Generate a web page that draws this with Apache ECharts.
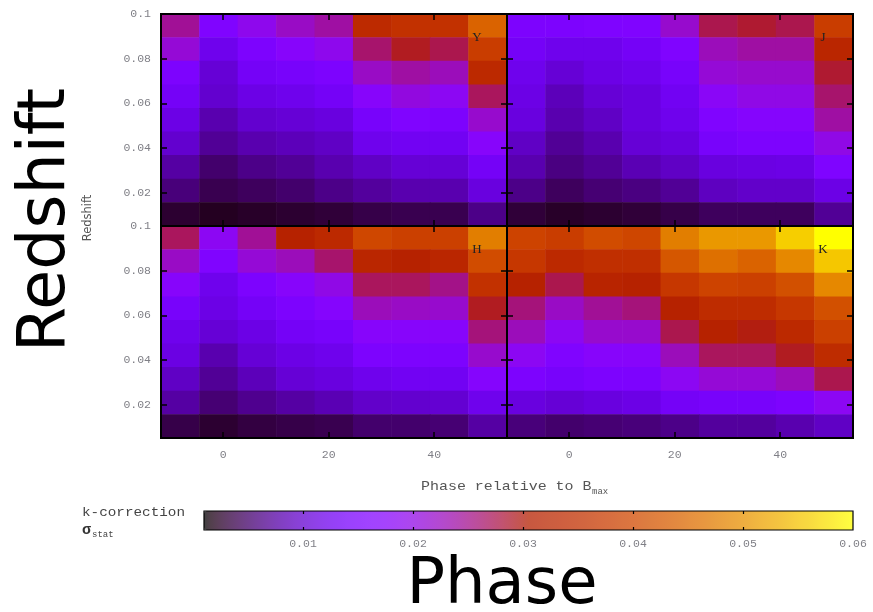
<!DOCTYPE html>
<html>
<head>
<meta charset="utf-8">
<script src="https://cdn.jsdelivr.net/npm/echarts@6/dist/echarts.min.js"></script>
<style>
  html, body { margin: 0; padding: 0; background: #fff; }
  #chart { width: 873px; height: 612px; }
</style>
</head>
<body>
<div id="chart"></div>
<script>
// Bin centres: phase (days relative to B maximum) and redshift
const phaseBins = ['-8.2', '-0.9', '6.4', '13.7', '21.0', '28.2', '35.5', '42.8', '50.1'];
const redshiftBins = ['0.010', '0.021', '0.031', '0.042', '0.052', '0.063', '0.073', '0.084', '0.094'];
const phaseRange = [-11.8, 53.8];
const redshiftRange = [0.005, 0.1];
const sigmaRange = [0.001, 0.06];
const phaseTicks = [0, 20, 40];
const redshiftTicks = [0.02, 0.04, 0.06, 0.08, 0.1];
const sigmaTicks = [0.01, 0.02, 0.03, 0.04, 0.05, 0.06];
const bands = ['Y', 'J', 'H', 'K'];

// Statistical k-correction error per cell; each row is one redshift bin,
// listed from the highest redshift bin down to the lowest.
const sigmaY = [
  [0.0246, 0.0158, 0.0193, 0.0222, 0.0240, 0.0335, 0.0352, 0.0352, 0.0441],
  [0.0211, 0.0122, 0.0152, 0.0175, 0.0193, 0.0264, 0.0293, 0.0276, 0.0376],
  [0.0152, 0.0104, 0.0134, 0.0140, 0.0152, 0.0222, 0.0240, 0.0228, 0.0329],
  [0.0134, 0.0099, 0.0116, 0.0122, 0.0134, 0.0175, 0.0205, 0.0187, 0.0270],
  [0.0116, 0.0081, 0.0099, 0.0104, 0.0110, 0.0140, 0.0158, 0.0152, 0.0217],
  [0.0099, 0.0069, 0.0081, 0.0087, 0.0093, 0.0122, 0.0128, 0.0128, 0.0175],
  [0.0075, 0.0051, 0.0063, 0.0069, 0.0081, 0.0093, 0.0104, 0.0104, 0.0134],
  [0.0057, 0.0040, 0.0045, 0.0051, 0.0063, 0.0072, 0.0081, 0.0081, 0.0110],
  [0.0028, 0.0022, 0.0025, 0.0028, 0.0031, 0.0037, 0.0040, 0.0040, 0.0063]
];
const sigmaJ = [
  [0.0152, 0.0152, 0.0155, 0.0158, 0.0217, 0.0276, 0.0287, 0.0276, 0.0376],
  [0.0134, 0.0122, 0.0122, 0.0134, 0.0158, 0.0228, 0.0240, 0.0240, 0.0323],
  [0.0122, 0.0104, 0.0116, 0.0122, 0.0140, 0.0211, 0.0217, 0.0217, 0.0287],
  [0.0116, 0.0087, 0.0104, 0.0110, 0.0128, 0.0181, 0.0199, 0.0199, 0.0264],
  [0.0110, 0.0081, 0.0093, 0.0110, 0.0122, 0.0158, 0.0169, 0.0169, 0.0240],
  [0.0093, 0.0069, 0.0081, 0.0104, 0.0110, 0.0140, 0.0152, 0.0152, 0.0199],
  [0.0081, 0.0060, 0.0069, 0.0084, 0.0093, 0.0110, 0.0113, 0.0116, 0.0155],
  [0.0063, 0.0045, 0.0054, 0.0060, 0.0069, 0.0090, 0.0096, 0.0096, 0.0116],
  [0.0031, 0.0025, 0.0028, 0.0031, 0.0037, 0.0045, 0.0045, 0.0045, 0.0069]
];
const sigmaH = [
  [0.0270, 0.0187, 0.0246, 0.0311, 0.0329, 0.0396, 0.0382, 0.0382, 0.0476],
  [0.0222, 0.0158, 0.0211, 0.0228, 0.0264, 0.0323, 0.0311, 0.0323, 0.0405],
  [0.0175, 0.0122, 0.0152, 0.0175, 0.0199, 0.0270, 0.0270, 0.0252, 0.0352],
  [0.0140, 0.0116, 0.0134, 0.0152, 0.0169, 0.0228, 0.0222, 0.0217, 0.0293],
  [0.0122, 0.0104, 0.0116, 0.0134, 0.0140, 0.0175, 0.0175, 0.0175, 0.0258],
  [0.0113, 0.0081, 0.0104, 0.0116, 0.0122, 0.0152, 0.0152, 0.0152, 0.0217],
  [0.0093, 0.0069, 0.0087, 0.0104, 0.0110, 0.0122, 0.0128, 0.0128, 0.0169],
  [0.0075, 0.0054, 0.0066, 0.0075, 0.0084, 0.0096, 0.0099, 0.0101, 0.0122],
  [0.0037, 0.0028, 0.0034, 0.0037, 0.0040, 0.0051, 0.0051, 0.0054, 0.0075]
];
const sigmaK = [
  [0.0388, 0.0376, 0.0405, 0.0394, 0.0476, 0.0506, 0.0506, 0.0559, 0.0600],
  [0.0364, 0.0329, 0.0346, 0.0346, 0.0423, 0.0458, 0.0441, 0.0488, 0.0553],
  [0.0311, 0.0276, 0.0317, 0.0311, 0.0364, 0.0388, 0.0382, 0.0411, 0.0488],
  [0.0258, 0.0222, 0.0246, 0.0258, 0.0311, 0.0340, 0.0340, 0.0364, 0.0411],
  [0.0228, 0.0187, 0.0217, 0.0217, 0.0276, 0.0311, 0.0299, 0.0329, 0.0382],
  [0.0187, 0.0158, 0.0175, 0.0175, 0.0228, 0.0270, 0.0270, 0.0293, 0.0340],
  [0.0152, 0.0140, 0.0152, 0.0152, 0.0187, 0.0211, 0.0211, 0.0228, 0.0276],
  [0.0110, 0.0104, 0.0110, 0.0116, 0.0134, 0.0140, 0.0140, 0.0152, 0.0187],
  [0.0057, 0.0051, 0.0054, 0.0057, 0.0063, 0.0072, 0.0072, 0.0081, 0.0093]
];
const bandGrids = [sigmaY, sigmaJ, sigmaH, sigmaK];

// gnuplot default pm3d palette (rgbformulae 7,5,15)
function paletteRGB(t) {
  const r = Math.sqrt(t), g = t * t * t, b = Math.sin(2 * Math.PI * t);
  return [r, g, b].map(v => Math.round(Math.min(1, Math.max(0, v)) * 255));
}
const cellColors = [], barColors = [];
for (let i = 0; i <= 80; i++) {
  const c = paletteRGB(i / 80);
  cellColors.push('rgb(' + c.join(',') + ')');
  // the colour box is drawn at 75% opacity over white
  barColors.push('rgb(' + c.map(v => Math.round(v * 0.75 + 255 * 0.25)).join(',') + ')');
}

const monoFont = '"Liberation Mono", "DejaVu Sans Mono", monospace';
const tickLabelColor = '#7f7f86';

const panelBoxes = [
  { left: 161, top: 14 }, { left: 507, top: 14 },
  { left: 161, top: 226 }, { left: 507, top: 226 }
];
const panelW = 346, panelH = 212;

const grid = [], xAxis = [], yAxis = [], series = [];
const tick = { show: true, inside: true, length: 6, lineStyle: { color: '#000', width: 1.5 } };
const noLine = { show: false, onZero: false };

panelBoxes.forEach((box, g) => {
  const isBottom = g >= 2, isLeft = g % 2 === 0;
  grid.push({ left: box.left, top: box.top, width: panelW, height: panelH,
    show: true, borderColor: '#000', borderWidth: 2, backgroundColor: 'transparent', z: 5 });
  // category axes carrying the cells
  xAxis.push({ type: 'category', gridIndex: g, data: phaseBins, show: false });
  yAxis.push({ type: 'category', gridIndex: g, data: redshiftBins, show: false });
  // value axes carrying the ticks and labels
  xAxis.push({ type: 'value', gridIndex: g, position: 'bottom', min: phaseRange[0], max: phaseRange[1], z: 10,
    axisLine: noLine, splitLine: { show: false },
    axisTick: Object.assign({ customValues: phaseTicks }, tick),
    axisLabel: { show: isBottom, customValues: phaseTicks, margin: 11, color: tickLabelColor,
      fontFamily: monoFont, fontSize: 11.5 } });
  xAxis.push({ type: 'value', gridIndex: g, position: 'top', min: phaseRange[0], max: phaseRange[1], z: 10,
    axisLine: noLine, splitLine: { show: false },
    axisTick: Object.assign({ customValues: phaseTicks }, tick), axisLabel: { show: false } });
  yAxis.push({ type: 'value', gridIndex: g, position: 'left', min: redshiftRange[0], max: redshiftRange[1], z: 10,
    axisLine: noLine, splitLine: { show: false },
    axisTick: Object.assign({ customValues: redshiftTicks }, tick),
    axisLabel: { show: isLeft, customValues: redshiftTicks, margin: 10, color: tickLabelColor,
      fontFamily: monoFont, fontSize: 11.5, formatter: v => String(v) } });
  yAxis.push({ type: 'value', gridIndex: g, position: 'right', min: redshiftRange[0], max: redshiftRange[1], z: 10,
    axisLine: noLine, splitLine: { show: false },
    axisTick: Object.assign({ customValues: redshiftTicks }, tick), axisLabel: { show: false } });

  const rows = bandGrids[g];
  const data = [];
  rows.forEach((row, r) => row.forEach((v, c) => data.push([c, rows.length - 1 - r, v])));
  series.push({ type: 'heatmap', name: bands[g], xAxisIndex: 3 * g, yAxisIndex: 3 * g, data,
    itemStyle: { borderWidth: 0 }, emphasis: { disabled: true } });
});

// colour box with its own axis
const cbGrid = grid.length;
grid.push({ left: 204, top: 511, width: 649, height: 19, show: true, borderColor: '#000',
  borderWidth: 1.2, backgroundColor: 'transparent', z: 5 });
const cbTick = { show: true, inside: true, length: 3, customValues: sigmaTicks.slice(0, 5),
  lineStyle: { color: '#000', width: 1.2 } };
xAxis.push({ type: 'value', gridIndex: cbGrid, position: 'bottom', min: sigmaRange[0], max: sigmaRange[1], z: 10,
  axisLine: noLine, splitLine: { show: false }, axisTick: cbTick,
  axisLabel: { customValues: sigmaTicks, margin: 8, color: tickLabelColor, fontFamily: monoFont, fontSize: 11.5,
    formatter: v => v.toFixed(2) } });
xAxis.push({ type: 'value', gridIndex: cbGrid, position: 'top', min: sigmaRange[0], max: sigmaRange[1], z: 10,
  axisLine: noLine, splitLine: { show: false }, axisTick: cbTick, axisLabel: { show: false } });
yAxis.push({ type: 'value', gridIndex: cbGrid, min: 0, max: 1, show: false });

const chart = echarts.init(document.getElementById('chart'), null, { renderer: 'canvas' });
chart.setOption({
  animation: false,
  backgroundColor: '#fff',
  grid, xAxis, yAxis, series,
  visualMap: [
    { type: 'continuous', show: false, seriesIndex: [0, 1, 2, 3], min: sigmaRange[0], max: sigmaRange[1],
      inRange: { color: cellColors } },
    { type: 'continuous', show: true, seriesIndex: [], min: sigmaRange[0], max: sigmaRange[1],
      orient: 'horizontal', left: 204, top: 511, itemWidth: 19, itemHeight: 649, padding: 0,
      calculable: false, text: null, hoverLink: false, z: 1,
      inRange: { color: barColors } }
  ],
  graphic: [
    // band letters
    ...bands.map((b, i) => ({ type: 'text', x: panelBoxes[i].left + 316, y: panelBoxes[i].top + 24, z: 20,
      style: { text: b, font: '13px "Liberation Serif", serif', fill: '#222', align: 'center', verticalAlign: 'middle' } })),
    // axis titles
    { type: 'text', x: 88, y: 218, rotation: Math.PI / 2, z: 20,
      style: { text: 'Redshift', font: '11.5px "DejaVu Sans", sans-serif', fill: '#555', align: 'center', verticalAlign: 'middle' } },
    { type: 'text', x: 421, y: 487, scaleX: 1.15, z: 20,
      style: { text: 'Phase relative to B', font: '13px ' + monoFont, fill: '#555', align: 'left', verticalAlign: 'middle' } },
    { type: 'text', x: 592, y: 492, z: 20,
      style: { text: 'max', font: '9px ' + monoFont, fill: '#555', align: 'left', verticalAlign: 'middle' } },
    { type: 'text', x: 82, y: 513, scaleX: 1.1, z: 20,
      style: { text: 'k-correction', font: '13px ' + monoFont, fill: '#444', align: 'left', verticalAlign: 'middle' } },
    { type: 'text', x: 82, y: 530, z: 20,
      style: { text: 'σ', font: 'bold 15px ' + monoFont, fill: '#333', align: 'left', verticalAlign: 'middle' } },
    { type: 'text', x: 92, y: 535, z: 20,
      style: { text: 'stat', font: '9px ' + monoFont, fill: '#444', align: 'left', verticalAlign: 'middle' } },
    // large titles
    { type: 'text', x: 47, y: 220, rotation: Math.PI / 2, z: 20,
      style: { text: 'Redshift', font: '65px "Comic Sans MS", "DejaVu Sans", sans-serif', fill: '#000',
        align: 'center', verticalAlign: 'middle' } },
    { type: 'text', x: 502, y: 586, z: 20,
      style: { text: 'Phase', font: '64px "Comic Sans MS", "DejaVu Sans", sans-serif', fill: '#000',
        align: 'center', verticalAlign: 'middle' } }
  ]
});
</script>
</body>
</html>
